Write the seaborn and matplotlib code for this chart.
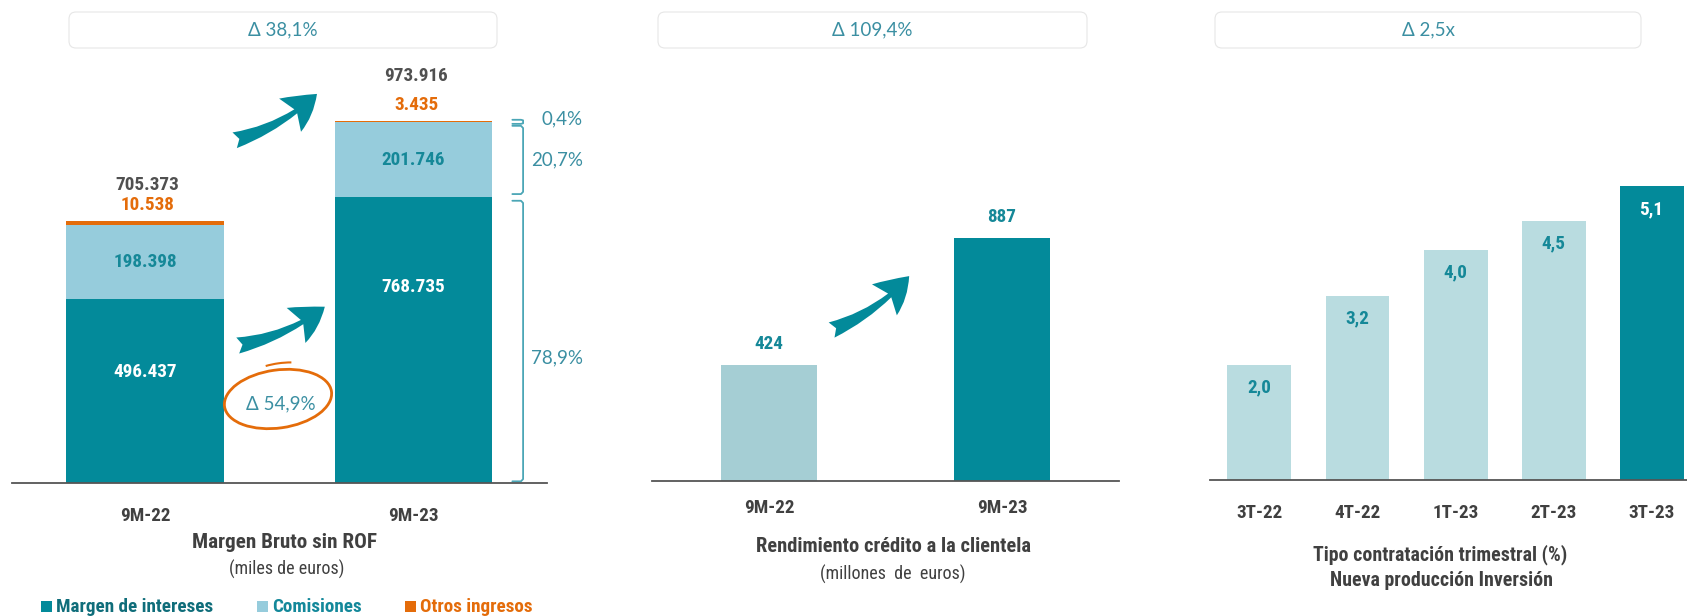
import os
import matplotlib
matplotlib.use('Agg')
import matplotlib.pyplot as plt
import matplotlib.font_manager as fm
from matplotlib.font_manager import FontProperties
from matplotlib.patches import FancyBboxPatch, FancyArrowPatch, Ellipse, Arc, Rectangle
import seaborn as sns
import numpy as np

# =============================================================================
# data
# =============================================================================
periods = ['9M-22', '9M-23']
margen_intereses = [496437, 768735]
comisiones = [198398, 201746]
otros_ingresos = [10538, 3435]
peso_labels = ['78,9%', '20,7%', '0,4%']
delta_margen = '\u0394 38,1%'
delta_intereses = '\u0394 54,9%'

rendimiento = [424, 887]
delta_rendimiento = '\u0394 109,4%'

trimestres = ['3T-22', '4T-22', '1T-23', '2T-23', '3T-23']
tipo_contratacion = [2.0, 3.2, 4.0, 4.5, 5.1]
delta_tipo = '\u0394 2,5x'

legend_labels = ['Margen de intereses', 'Comisiones', 'Otros ingresos']

# colours
TEAL = '#038A9A'
LIGHT = '#96CCDC'
ORANGE = '#E46C0A'
PALE2 = '#A5CED4'
PALE3 = '#B9DCE0'
LBL_TEAL = '#158898'
DELTA_C = '#3B8FA2'
GREY = '#404040'
GREY2 = '#505050'

sns.set_theme(style='white')
plt.rcParams['font.family'] = ['Liberation Sans', 'DejaVu Sans']
SOFT = ['Lato', 'DejaVu Sans']

W, H = 1687, 616
fig = plt.figure(figsize=(W / 100, H / 100), dpi=100)
tr = fig.dpi_scale_trans
renderer = fig.canvas.get_renderer()


# =============================================================================
# fonts: look for a narrow / condensed sans, otherwise squeeze Liberation Sans
# =============================================================================
def find_font(bold):
    prefs = ['liberationsansnarrow', 'arialnarrow', 'arialn', 'robotocondensed',
             'dejavusanscondensed', 'notosans-condensed', 'opensanscondensed',
             'opensans_condensed', 'opensans-condensed']
    bad = ['italic', 'oblique', 'semi', 'extra', 'black', 'light', 'thin', 'medium']
    files = sorted({f.fname for f in fm.fontManager.ttflist})
    for p in prefs:
        for f in files:
            b = os.path.basename(f).lower().replace(' ', '')
            if not b.startswith(p) or any(w in b for w in bad):
                continue
            if ('bold' in b or b.startswith('arialnb')) == bold:
                return f
    return None


fb, fr = find_font(True), find_font(False)


def base_prop(bold):
    f = fb if bold else fr
    if f is not None:
        return FontProperties(fname=f)
    return FontProperties(family='Liberation Sans', weight='bold' if bold else 'normal')


def text_w(s, prop):
    t = fig.text(0, 0, s, fontproperties=prop)
    w = t.get_window_extent(renderer).width
    t.remove()
    return w


# size factors so that the text widths match the slide (narrow Arial)
pb = base_prop(True)
pb.set_size(14)
KB = min(1.0, 158 / text_w('Margen de intereses', pb))
pr = base_prop(False)
pr.set_size(13)
KR = min(1.0, 118 / text_w('(miles de euros)', pr))


def fp(size, bold=True):
    p = base_prop(bold)
    p.set_size(size * (KB if bold else KR))
    return p


def inch(x, y):
    # pixel position (from top-left) -> inches for dpi_scale_trans
    return x / 100, (H - y) / 100


def panel(x0, x1, base):
    ax = fig.add_axes([x0 / W, 1 - base / H, (x1 - x0) / W, base / H])
    ax.set_facecolor('none')
    return ax


def finish(ax, xlim, ytop, labels, pad):
    ax.set_xlim(*xlim)
    ax.set_ylim(0, ytop)
    ax.set_yticks([])
    ax.set_xlabel('')
    ax.set_ylabel('')
    for s in ['top', 'left', 'right']:
        ax.spines[s].set_visible(False)
    ax.spines['bottom'].set_color('#555555')
    ax.spines['bottom'].set_linewidth(1.3)
    ax.set_xticks(range(len(labels)))
    ax.set_xticklabels(labels, fontproperties=fp(14), color=GREY)
    ax.tick_params(axis='x', length=0, pad=pad)


def delta_box(x0, x1, text):
    bx0, by0 = inch(x0, 48)
    bx1, by1 = inch(x1, 12)
    box = FancyBboxPatch((bx0, by0), bx1 - bx0, by1 - by0,
                         boxstyle='round,pad=0,rounding_size=0.07',
                         transform=tr, facecolor='white', edgecolor='#E6E6E6', lw=0.8)
    fig.patches.append(box)
    fig.text(*inch((x0 + x1) / 2, 30), text, transform=tr, ha='center', va='center',
             fontsize=13.5, color=DELTA_C, family=SOFT)


def arrow(p0, p1):
    a = FancyArrowPatch(inch(*p0), inch(*p1), transform=tr,
                        arrowstyle='fancy,head_length=0.95,head_width=1.1,tail_width=0.45',
                        connectionstyle='arc3,rad=0.13', mutation_scale=26,
                        color=TEAL, lw=0)
    fig.patches.append(a)


# =============================================================================
# Panel 1: Margen Bruto sin ROF
# =============================================================================
mi = np.array(margen_intereses)
co = np.array(comisiones)
ot = np.array(otros_ingresos)
total = mi + co + ot

ax1 = panel(12, 547, 483)
sns.barplot(x=periods, y=mi, color=TEAL, width=0.587, saturation=1, errorbar=None, linewidth=0, ax=ax1)
sns.barplot(x=periods, y=co, bottom=mi, color=LIGHT, width=0.587, saturation=1, errorbar=None, linewidth=0, ax=ax1)
sns.barplot(x=periods, y=ot, bottom=mi + co, color=ORANGE, width=0.587, saturation=1, errorbar=None, linewidth=0, ax=ax1)
finish(ax1, (-0.495, 1.497), 483 / 0.3715 * 1000, periods, 17)


def fmt(v):
    return f'{v:,.0f}'.replace(',', '.')


tot_off = [36, 45]
mi_off = [73, 90]
for i in range(len(periods)):
    ax1.annotate(fmt(total[i]), (i, total[i]), xytext=(2, tot_off[i]), textcoords='offset pixels',
                 ha='center', va='center', fontproperties=fp(14), color=GREY2)
    ax1.annotate(fmt(ot[i]), (i, total[i]), xytext=(3, 16), textcoords='offset pixels',
                 ha='center', va='center', fontproperties=fp(14), color=ORANGE)
    ax1.text(i, mi[i] + co[i] / 2, fmt(co[i]), ha='center', va='center',
             fontproperties=fp(14), color=LBL_TEAL)
    ax1.annotate(fmt(mi[i]), (i, mi[i]), xytext=(0, -mi_off[i]), textcoords='offset pixels',
                 ha='center', va='center', fontproperties=fp(14), color='white')

# brackets for the 9M-23 composition
xv, dx = 1.408, 0.04
segs = [(0, mi[1]), (mi[1], mi[1] + co[1]), (mi[1] + co[1], total[1])]
g = 9000
for (lo, hi), lab in zip(segs, peso_labels):
    tiny = hi - lo < 4 * g
    if tiny:
        mid = (lo + hi) / 2
        lo, hi = mid - 5500, mid + 5500
        e = 1500
    else:
        lo, hi = lo + g * (0.5 if lo == 0 else 1), hi - g
        e = 6000
    ax1.plot([xv - dx, xv - 0.2 * dx, xv, xv, xv - 0.2 * dx, xv - dx],
             [lo, lo, lo + e, hi - e, hi, hi], color='#4BA6B6', lw=1.3, clip_on=False,
             solid_joinstyle='round')
    ypos = (lo + hi) / 2 + (8000 if tiny else 0)
    if lo < g:
        ypos = lo + 0.44 * (hi - lo)
    ax1.text(1.631, ypos, lab, ha='right', va='center',
             fontsize=13.5, color=DELTA_C, family=SOFT)

delta_box(69, 497, delta_margen)
arrow((232, 141), (319, 92))
arrow((235, 346), (327, 305))

# hand drawn circle around the interest delta
ell = Ellipse(inch(278, 399), 1.08, 0.58, angle=8, transform=tr, fill=False,
              edgecolor=ORANGE, lw=2.0)
fig.patches.append(ell)
arc = Arc(inch(283, 396), 1.12, 0.66, angle=8, theta1=68, theta2=112, transform=tr,
          edgecolor=ORANGE, lw=1.5)
fig.patches.append(arc)
fig.text(*inch(281, 404), delta_intereses, transform=tr, ha='center', va='center',
         fontsize=13.5, color=DELTA_C, family=SOFT)

fig.text(*inch(285, 543), 'Margen Bruto sin ROF', transform=tr, ha='center', va='center',
         fontproperties=fp(15.5), color=GREY)
fig.text(*inch(287, 569), '(miles de euros)', transform=tr, ha='center', va='center',
         fontproperties=fp(13, False), color=GREY)

# legend
leg_sq = [41, 257, 405]
leg_colors = [TEAL, LIGHT, ORANGE]
leg_text_colors = ['#0F6D7A', '#13889A', ORANGE]
for x, lab, c, tc in zip(leg_sq, legend_labels, leg_colors, leg_text_colors):
    sx, sy = inch(x, 612)
    fig.patches.append(Rectangle((sx, sy), 0.11, 0.11, transform=tr, color=c, lw=0))
    fig.text(*inch(x + 15, 607), lab, transform=tr, ha='left', va='center',
             fontproperties=fp(14), color=tc)

# =============================================================================
# Panel 2: Rendimiento credito a la clientela
# =============================================================================
ax2 = panel(652, 1119, 481)
sns.barplot(x=periods, y=rendimiento, hue=periods, palette=[PALE2, TEAL], legend=False,
            width=0.412, saturation=1, errorbar=None, linewidth=0, ax=ax2)
finish(ax2, (-0.502, 1.502), 481 / 0.2735, periods, 13)
for i, v in enumerate(rendimiento):
    ax2.annotate(f'{v}', (i, v), xytext=(0, 21), textcoords='offset pixels', ha='center',
                 va='center', fontproperties=fp(14), color=LBL_TEAL)

delta_box(658, 1087, delta_rendimiento)
arrow((829, 331), (911, 274))
fig.text(*inch(893, 547), 'Rendimiento crédito a la clientela', transform=tr, ha='center',
         va='center', fontproperties=fp(15), color=GREY)
fig.text(*inch(893, 574), '(millones  de  euros)', transform=tr, ha='center', va='center',
         fontproperties=fp(13, False), color=GREY)

# =============================================================================
# Panel 3: Tipo contratacion trimestral
# =============================================================================
ax3 = panel(1210, 1687, 480)
pal3 = [PALE3] * (len(trimestres) - 1) + [TEAL]
sns.barplot(x=trimestres, y=tipo_contratacion, hue=trimestres, palette=pal3, legend=False,
            width=0.653, saturation=1, errorbar=None, linewidth=0, ax=ax3)
finish(ax3, (-0.505, 4.362), 480 / 57.6, trimestres, 17)
for i, v in enumerate(tipo_contratacion):
    c = 'white' if i == len(trimestres) - 1 else LBL_TEAL
    ax3.annotate(f'{v:.1f}'.replace('.', ','), (i, v), xytext=(0, -23), textcoords='offset pixels',
                 ha='center', va='center', fontproperties=fp(14), color=c)

delta_box(1215, 1641, delta_tipo)
fig.text(*inch(1440, 555), 'Tipo contratación trimestral (%)', transform=tr, ha='center',
         va='center', fontproperties=fp(14.5), color=GREY)
fig.text(*inch(1441, 580), 'Nueva producción Inversión', transform=tr, ha='center',
         va='center', fontproperties=fp(14.5), color=GREY)

fig.savefig('out.png', dpi=100, facecolor='white')
